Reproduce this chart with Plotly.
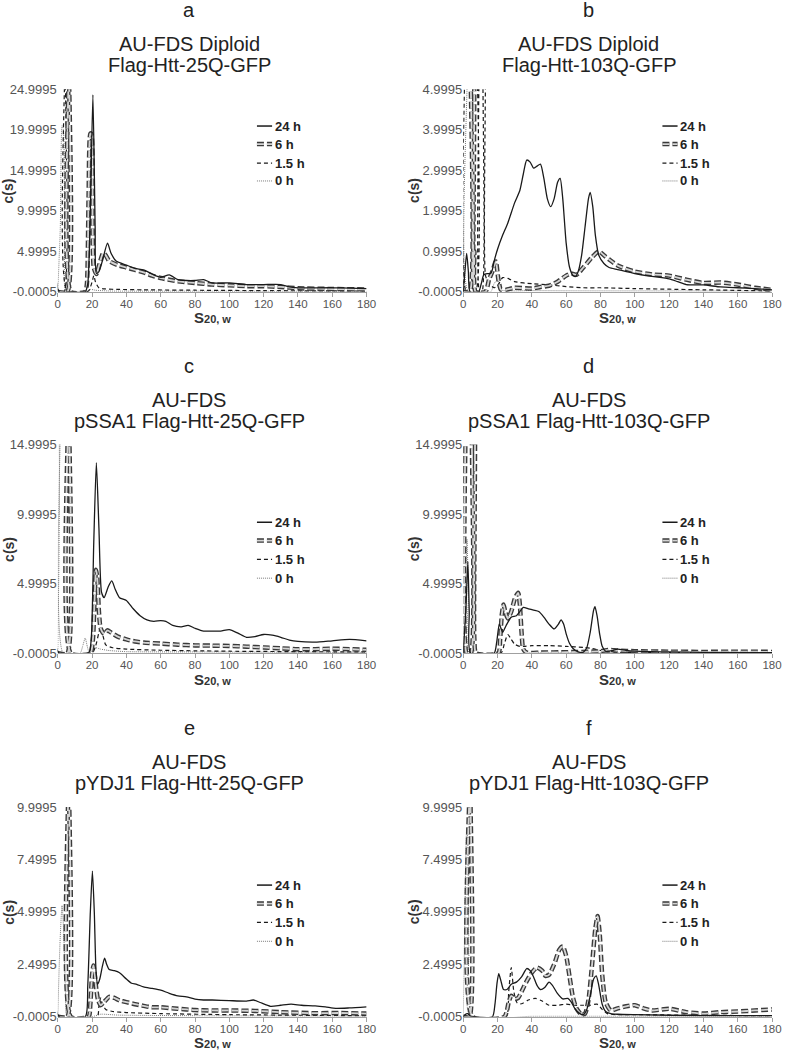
import plotly.graph_objects as go

# ---- data: (s20w, c(s)) points ----
a_24h = [(0, 35), (0.8, 0), (8, 0), (16, 0), (17.5, 1), (19, 10), (20.5, 24.3), (21.8, 8), (22.5, 2.3), (24, 2.5),
         (26, 3.8), (29, 6.0), (31, 4.8), (34, 3.8), (40, 3.3), (45, 2.9), (50, 2.7), (55, 2.2), (60, 1.8),
         (65, 2.1), (70, 1.5), (75, 1.4), (80, 1.4), (85, 1.5), (90, 1.1), (100, 1.1), (110, 0.9), (120, 0.9),
         (130, 0.9), (135, 0.6), (140, 0.5), (160, 0.5), (170, 0.45), (180, 0.4)]
a_6h = [(0, 0), (5.6, 0), (6.2, 40), (7, 40), (7.6, 0), (16, 0), (17, 1), (18, 12), (19, 19.5), (19.6, 19.5),
        (20.3, 8), (21, 3), (22.5, 2.2), (24, 3.2), (26.5, 4.8), (28, 4.5), (30, 3.8), (35, 3.3), (40, 3.0),
        (45, 2.7), (50, 2.4), (55, 2.0), (60, 1.7), (70, 1.3), (80, 1.1), (90, 0.9), (100, 0.8), (110, 0.7),
        (120, 0.7), (130, 0.6), (140, 0.45), (160, 0.35), (180, 0.3)]
a_15h = [(0, 40), (0.6, 0), (3.8, 0), (4.3, 40), (5, 40), (5.5, 0), (16, 0), (18, 0.1), (20, 1.2), (21, 2.0),
         (22, 1.2), (24, 0.5), (28, 0.35), (35, 0.3), (50, 0.25), (80, 0.2), (120, 0.15), (180, 0.1)]
a_0h = [(0, 0), (1.5, 8), (2.5, 20.5), (3.3, 20), (4, 5), (5, 0), (17, 0), (19, 0.3), (22, 0.2), (30, 0.1),
        (80, 0.08), (180, 0.05)]

b_24h = [(0, 0), (1, 0.5), (2, 0.95), (3, 0.5), (4, 0), (9, 0), (10.5, 0.2), (12, 0.42), (14, 0.45), (16, 0.45),
         (17, 0.55), (18, 0.75), (20, 1.05), (23, 1.4), (26, 1.7), (30, 2.2), (33, 2.5), (35, 2.9), (37, 3.25),
         (39, 3.2), (41, 3.05), (43, 3.1), (45, 3.15), (47, 2.8), (49, 2.3), (51, 2.1), (53, 2.3), (55, 2.7),
         (56.5, 2.8), (58, 2.3), (60, 1.2), (62, 0.6), (64, 0.4), (65.5, 0.38), (67, 0.5), (69, 0.9), (71, 1.6),
         (73, 2.3), (74, 2.45), (75.5, 2.1), (77, 1.4), (79, 0.9), (82, 0.7), (85, 0.6), (90, 0.55), (100, 0.45),
         (110, 0.38), (120, 0.32), (125, 0.25), (130, 0.18), (140, 0.17), (150, 0.12), (160, 0.1), (170, 0.08),
         (180, 0.05)]
b_6h = [(0, 0), (3.8, 0), (4.3, 8), (5.3, 8), (5.8, 0.3), (6.5, 1.0), (7.2, 0), (13, 0), (15, 0.3), (17, 0.5),
        (19, 0.75), (20.5, 0.3), (22, 0.05), (25, 0.05), (30, 0.1), (40, 0.08), (45, 0.12), (50, 0.15), (55, 0.25),
        (60, 0.4), (63, 0.45), (66, 0.42), (70, 0.6), (75, 0.85), (79, 1.0), (82, 0.9), (85, 0.8), (90, 0.65),
        (100, 0.5), (110, 0.43), (120, 0.4), (130, 0.3), (140, 0.22), (150, 0.23), (160, 0.18), (170, 0.1),
        (180, 0.05)]
b_15h = [(0, 0), (0.5, 8), (1.2, 8), (1.8, 0), (7.2, 0), (8, 8), (8.8, 8), (9.5, 0), (11, 0), (11.8, 8),
         (12.5, 8), (13, 0.4), (15, 0.2), (18, 0.1), (20, 0.15), (23, 0.35), (26, 0.33), (30, 0.25), (40, 0.2),
         (50, 0.17), (60, 0.13), (70, 0.1), (80, 0.1), (100, 0.08), (140, 0.05), (180, 0.02)]
b_0h = [(0, 0), (0.8, 6), (2, 6), (3, 0), (16, 0), (18, 0.2), (20, 0.3), (22, 0.05), (40, 0.03), (180, 0.02)]

c_24h = [(0, 25), (0.8, 0), (18, 0), (19.5, 1), (21, 8), (22.5, 13.7), (24, 9), (25.5, 4.4), (27, 4.0),
         (29.5, 4.8), (31.5, 5.2), (33.5, 4.6), (36, 4.0), (40, 3.8), (44, 3.2), (48, 2.7), (52, 2.4), (56, 2.3),
         (60, 2.35), (63, 2.3), (67, 2.0), (72, 1.9), (76, 2.0), (80, 1.8), (85, 1.6), (90, 1.6), (95, 1.6),
         (100, 1.7), (105, 1.45), (110, 1.15), (115, 1.2), (120, 1.35), (125, 1.3), (130, 1.15), (135, 0.95),
         (140, 0.85), (150, 0.8), (160, 0.9), (170, 1.0), (180, 0.9)]
c_6h = [(0, 0), (5.6, 0), (6.2, 25), (7, 25), (7.6, 0), (19, 0), (20.5, 1), (21.5, 4), (22.3, 6.0), (23, 5.5),
        (24, 3), (25, 1.8), (27, 1.4), (29, 1.65), (31, 1.5), (35, 1.2), (40, 1.0), (45, 0.85), (50, 0.77),
        (60, 0.7), (70, 0.62), (80, 0.57), (90, 0.55), (100, 0.53), (110, 0.48), (120, 0.42), (130, 0.36),
        (140, 0.3), (150, 0.3), (160, 0.33), (170, 0.3), (180, 0.25)]
c_15h = [(0, 25), (0.7, 0), (20, 0), (22, 0.5), (24, 1.5), (25, 1.9), (26.5, 1.2), (28, 0.6), (32, 0.4),
         (40, 0.3), (60, 0.22), (80, 0.18), (100, 0.15), (140, 0.12), (180, 0.1)]
c_0h = [(0, 0), (1, 10), (1.8, 25), (2.5, 25), (3.2, 0), (13, 0), (14.5, 0.5), (16, 1.1), (17.2, 0.5), (18.5, 0),
        (20, 0.2), (22, 0.4), (25, 0.3), (30, 0.2), (40, 0.12), (80, 0.1), (180, 0.06)]

d_24h = [(0, 0), (1.5, 3), (2.7, 6.6), (3.5, 3), (4.3, 0), (18, 0), (19.5, 0.8), (21, 2.1), (22, 1.8), (23, 1.5),
         (25, 2.0), (28, 2.6), (31, 2.7), (33, 3.0), (35, 3.3), (38, 3.2), (41, 3.1), (44, 3.0), (47, 2.6),
         (50, 2.1), (53, 1.75), (55.5, 2.1), (57, 2.4), (58.5, 2.1), (60, 1.4), (62, 0.7), (64, 0.35), (67, 0.1),
         (70, 0.08), (72, 0.4), (74, 1.5), (76, 3.1), (76.8, 3.35), (78, 2.7), (79.5, 1.4), (81, 0.5), (83, 0.15),
         (87, 0.2), (90, 0.3), (95, 0.2), (100, 0.15), (120, 0.1), (140, 0.06), (180, 0.05)]
d_6h = [(0, 0), (0.6, 25), (1.3, 25), (2, 0), (4.5, 0), (5, 25), (5.9, 25), (6.5, 1), (7.5, 0), (20.5, 0),
        (21.5, 1), (22.5, 2.8), (23.5, 3.5), (24.5, 3.0), (26, 2.5), (28, 3.0), (30, 3.9), (32, 4.35), (33, 3.5),
        (34, 1.5), (35, 0.3), (37, 0.05), (45, 0.05), (60, 0.08), (75, 0.12), (80, 0.15), (85, 0.25), (90, 0.2),
        (100, 0.15), (120, 0.12), (140, 0.1), (160, 0.12), (180, 0.1)]
d_15h = [(0, 25), (0.7, 25), (1.3, 0), (22, 0), (24, 0.7), (26, 1.35), (28, 1.0), (30, 0.65), (33, 0.5),
         (36, 0.5), (40, 0.55), (50, 0.55), (60, 0.5), (70, 0.42), (75, 0.35), (80, 0.2), (85, 0.1), (100, 0.06),
         (180, 0.03)]
d_0h = [(0, 0), (1.2, 4), (2.2, 8.2), (3, 4), (3.8, 0), (40, 0.03), (180, 0.02)]

e_24h = [(0, 16), (0.8, 0), (16, 0), (17.5, 1.5), (19, 5), (20.2, 6.95), (21.3, 5), (22.3, 2.2), (23.2, 1.55),
         (24.5, 1.8), (26, 2.4), (27.3, 2.8), (28.5, 2.5), (30, 2.25), (33, 2.2), (36, 2.1), (40, 1.8), (43, 1.6),
         (46, 1.55), (50, 1.42), (55, 1.35), (60, 1.27), (65, 1.12), (70, 1.0), (75, 0.95), (80, 0.84), (85, 0.8),
         (90, 0.8), (100, 0.77), (110, 0.75), (114, 0.8), (118, 0.68), (124, 0.5), (130, 0.55), (136, 0.6),
         (142, 0.55), (150, 0.52), (156, 0.47), (162, 0.4), (170, 0.42), (180, 0.47)]
e_6h = [(0, 0), (5.6, 0), (6.2, 16), (7, 16), (7.6, 0), (18, 0), (19, 0.6), (20, 2.0), (20.8, 2.45), (21.6, 2.0),
        (22.5, 1.3), (23.5, 0.8), (25, 0.55), (27, 0.7), (30, 0.95), (33, 0.9), (36, 0.78), (40, 0.7), (45, 0.6),
        (50, 0.52), (55, 0.45), (60, 0.45), (70, 0.38), (80, 0.32), (90, 0.3), (100, 0.3), (115, 0.28),
        (130, 0.22), (150, 0.17), (165, 0.18), (180, 0.15)]
e_15h = [(0, 16), (0.6, 0), (23, 0), (24, 0.5), (25, 0.9), (26, 0.6), (28, 0.35), (32, 0.25), (40, 0.2),
         (60, 0.15), (100, 0.1), (180, 0.05)]
e_0h = [(0, 0), (1.3, 3.5), (2.5, 5.3), (3.5, 4), (4.6, 1), (5.5, 0), (20, 0), (25, 0.12), (35, 0.08),
        (80, 0.05), (180, 0.03)]

f_24h = [(0, 0), (1, 0.1), (2.5, 0.15), (4, 0.05), (6, 0), (17, 0), (18.5, 0.6), (19.7, 1.6), (20.7, 2.05),
         (22, 1.7), (23.5, 1.3), (25.5, 1.3), (28, 1.55), (31, 1.65), (34, 1.9), (37, 2.3), (39, 2.2), (41, 1.9),
         (43, 1.5), (45, 1.3), (47.5, 1.4), (50, 1.65), (52, 1.5), (55, 1.1), (58, 0.85), (61, 0.88), (63, 0.7),
         (65, 0.4), (68, 0.15), (70, 0.1), (72, 0.35), (74, 1.0), (76, 1.8), (77.5, 1.95), (79, 1.5), (81, 0.6),
         (83, 0.25), (86, 0.15), (90, 0.12), (100, 0.1), (140, 0.05), (180, 0.05)]
f_6h = [(0, 0), (3.6, 0), (4.1, 16), (5, 16), (5.5, 0), (24, 0), (25.5, 0.3), (26.5, 0.7), (28, 1.0), (30, 0.85),
        (32, 0.9), (34, 1.2), (37, 1.7), (40, 2.1), (43, 2.35), (46, 2.2), (48, 1.95), (50, 2.0), (53, 2.5),
        (56, 3.2), (58, 3.35), (60, 2.9), (62, 1.9), (64, 0.9), (66, 0.4), (69, 0.1), (71, 0.15), (73, 0.8),
        (75, 2.4), (77, 4.2), (78.3, 4.8), (79.5, 4.0), (81, 2.0), (83, 0.7), (86, 0.3), (90, 0.4), (95, 0.5),
        (100, 0.55), (105, 0.4), (110, 0.3), (120, 0.38), (130, 0.22), (140, 0.15), (150, 0.22), (160, 0.25),
        (170, 0.3), (180, 0.35)]
f_15h = [(0, 16), (0.6, 0), (25, 0), (26.5, 1.2), (28, 2.35), (29.5, 1.2), (31.5, 0.65), (34, 0.62), (38, 0.8),
         (42, 0.88), (46, 0.75), (50, 0.55), (55, 0.55), (60, 0.6), (65, 0.55), (70, 0.55), (74, 0.55), (78, 0.6),
         (81, 0.35), (84, 0.15), (90, 0.1), (100, 0.1), (140, 0.07), (180, 0.05)]
f_0h = [(0, 0), (1, 5), (2, 9), (2.6, 8.5), (3.3, 3), (4, 0), (40, 0.02), (180, 0.02)]

series_names = ["24 h", "6 h", "1.5 h", "0 h"]
panel_letters = ["a", "b", "c", "d", "e", "f"]
panel_titles = [["AU-FDS Diploid", "Flag-Htt-25Q-GFP"],
                ["AU-FDS Diploid", "Flag-Htt-103Q-GFP"],
                ["AU-FDS", "pSSA1 Flag-Htt-25Q-GFP"],
                ["AU-FDS", "pSSA1 Flag-Htt-103Q-GFP"],
                ["AU-FDS", "pYDJ1 Flag-Htt-25Q-GFP"],
                ["AU-FDS", "pYDJ1 Flag-Htt-103Q-GFP"]]
y_ticks = [[-0.0005, 4.9995, 9.9995, 14.9995, 19.9995, 24.9995],
           [-0.0005, 0.9995, 1.9995, 2.9995, 3.9995, 4.9995],
           [-0.0005, 4.9995, 9.9995, 14.9995],
           [-0.0005, 4.9995, 9.9995, 14.9995],
           [-0.0005, 2.4995, 4.9995, 7.4995, 9.9995],
           [-0.0005, 2.4995, 4.9995, 7.4995, 9.9995]]
x_ticks = [0, 20, 40, 60, 80, 100, 120, 140, 160, 180]
panel_data = [(a_24h, a_6h, a_15h, a_0h), (b_24h, b_6h, b_15h, b_0h), (c_24h, c_6h, c_15h, c_0h),
              (d_24h, d_6h, d_15h, d_0h), (e_24h, e_6h, e_15h, e_0h), (f_24h, f_6h, f_15h, f_0h)]

# ---- layout geometry (pixels on the 787x1050 page) ----
W, H = 787, 1050
SPREAD = 1.013  # small empirical stretch about the page centre
col_x = [(60, 370), (467, 777)]
row_y = [(89, 292), (445, 654), (808, 1018)]
title_cx = [192, 593]
legend_fy = [[0.818, 0.729, 0.635, 0.547], [0.628, 0.54, 0.45, 0.36], [0.628, 0.54, 0.45, 0.36]]

FONT = "Arial, Liberation Sans, sans-serif"
DARK = "#1a1a1a"
SIXH_DASH = "7px,3px"


def px_x(p):
    return (W / 2 + (p - W / 2) * SPREAD) / W


def px_y(p):
    return 1 - (H / 2 + (p - H / 2) * SPREAD) / H


def label(text, x, y, size, color="#222222", **kw):
    return dict(text=text, x=x, y=y, xref=kw.pop("xref", "paper"), yref=kw.pop("yref", "paper"),
                xanchor=kw.pop("xanchor", "center"), yanchor="middle", showarrow=False,
                font=dict(size=size, color=color, family=FONT), **kw)


fig = go.Figure()
annotations = []
shapes = []

for i in range(6):
    row, col = divmod(i, 2)
    k = "" if i == 0 else str(i + 1)
    xa, ya = "x" + k, "y" + k
    s24, s6, s15, s0 = panel_data[i]

    def add(pts, **line):
        fig.add_trace(go.Scatter(x=[p[0] for p in pts], y=[p[1] for p in pts], mode="lines",
                                 line=dict(shape="spline", smoothing=0.6, **line),
                                 xaxis=xa, yaxis=ya, showlegend=False, hoverinfo="skip"))

    add(s0, color="#7a7a7a", width=1, dash="1px,1px")
    add(s15, color=DARK, width=1.2, dash="4px,3px")
    add(s6, color="#3a3a3a", width=4.5, dash=SIXH_DASH)
    add(s6, color="#d4d4d4", width=1.8, dash=SIXH_DASH)
    add(s24, color=DARK, width=1.3)

    x0, x1 = col_x[col]
    y0, y1 = row_y[row]
    ticks = y_ticks[i]
    fig.layout["xaxis" + k] = dict(domain=[px_x(x0), px_x(x1)], anchor=ya, range=[0, 180],
                                   tickvals=x_ticks, ticks="outside", ticklen=4, tickcolor="#a0a0a0",
                                   ticklabelstandoff=-3,
                                   showline=True, linecolor="#a0a0a0", linewidth=1, showgrid=False,
                                   zeroline=False, tickfont=dict(size=11.5, color="#555555", family=FONT))
    fig.layout["yaxis" + k] = dict(domain=[px_y(y1), px_y(y0)], anchor=xa, range=[ticks[0], ticks[-1]],
                                   tickvals=ticks, ticktext=[f"{t:.4f}" for t in ticks], ticks="",
                                   showline=False, showgrid=False, zeroline=False,
                                   tickfont=dict(size=13, color="#555555", family=FONT))

    # panel letter and two-line title
    cx = px_x(title_cx[col])
    annotations.append(label(panel_letters[i], cx, px_y(y0 - 79), 20))
    for j, line in enumerate(panel_titles[i]):
        annotations.append(label(line, cx, px_y(y0 - 45 + 21 * j), 20))
    # axis titles
    annotations.append(label("<b>c(s)</b>", px_x(x0 - 49), px_y((y0 + y1) / 2), 14, "#333333", textangle=-90))
    annotations.append(label("<b>S<span style='font-size:11px'>20, w</span></b>", px_x((x0 + x1) / 2),
                             px_y(y1 + 26), 15, "#333333"))

    # legend drawn by hand (short samples like the original)
    xd = xa + " domain"
    yd = ya + " domain"
    lx0, lx1 = 0.645, 0.694
    styles = [[dict(color=DARK, width=1.5)],
              [dict(color="#3a3a3a", width=4.5, dash=SIXH_DASH), dict(color="#d4d4d4", width=1.8, dash=SIXH_DASH)],
              [dict(color=DARK, width=1.2, dash="4px,3px")],
              [dict(color="#7a7a7a", width=1, dash="1px,1px")]]
    for name, fy, st in zip(series_names, legend_fy[row], styles):
        for s in st:
            shapes.append(dict(type="line", xref=xd, yref=yd, x0=lx0, x1=lx1, y0=fy, y1=fy, line=s))
        annotations.append(label(f"<b>{name}</b>", lx1 + 0.003, fy, 13, xref=xd, yref=yd, xanchor="left"))

fig.update_layout(width=W, height=H, margin=dict(l=0, r=0, t=0, b=0), plot_bgcolor="white",
                  paper_bgcolor="white", annotations=annotations, shapes=shapes, showlegend=False)
# drop the browser's default page margin so the figure sits flush in the window
fig.write_html("out.html", config={"displayModeBar": False},
               post_script="document.body.style.margin='0';"
                           "document.documentElement.style.overflow='hidden';")
